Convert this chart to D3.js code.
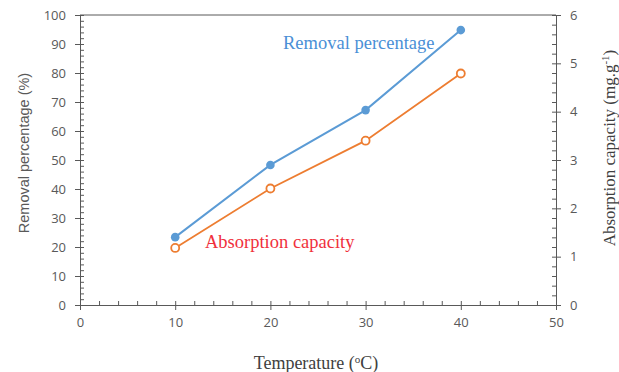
<!DOCTYPE html>
<html lang="en">
<head>
    <meta charset="UTF-8">
    <title>Temperature effect</title>
</head>
<style>
    body { margin: 0; background: #fff; }
    .tick text { font-family: "Open Sans", "DejaVu Sans", sans-serif; font-size: 13px; fill: #595959; }
    .domain, .tick line { stroke: #595959; }
</style>
<body>
<script src="https://cdnjs.cloudflare.com/ajax/libs/d3/7.8.5/d3.min.js"></script>
<script>
    const width = 619, height = 372;
    const margin = {top: 15, right: 63, bottom: 67, left: 80};

    const temperature = [10, 20, 30, 40];
    const removal = [23.4, 48.3, 67.2, 94.8];
    const capacity = [1.18, 2.41, 3.40, 4.79];
    const xTicks = [0, 10, 20, 30, 40, 50];
    const yLeftTicks = [0, 10, 20, 30, 40, 50, 60, 70, 80, 90, 100];
    const yRightTicks = [0, 1, 2, 3, 4, 5, 6];

    const blue = "#5b9bd5", orange = "#ed7d31";

    const svg = d3.select("body")
        .append("svg")
        .attr("width", width)
        .attr("height", height);

    const x = d3.scaleLinear().domain([0, 50]).range([margin.left, width - margin.right]);
    const yL = d3.scaleLinear().domain([0, 100]).range([height - margin.bottom, margin.top]);
    const yR = d3.scaleLinear().domain([0, 6]).range([height - margin.bottom, margin.top]);

    const bottom = height - margin.bottom, right = width - margin.right;

    // minor ticks, pointing into the plot
    svg.append("g").attr("transform", "translate(0," + bottom + ")")
        .call(d3.axisTop(x).tickValues(d3.range(0, 50.01, 2)).tickSize(4).tickFormat(""))
        .call(g => g.select(".domain").remove());
    svg.append("g").attr("transform", "translate(" + margin.left + ",0)")
        .call(d3.axisRight(yL).tickValues(d3.range(0, 100.01, 2)).tickSize(4).tickFormat(""))
        .call(g => g.select(".domain").remove());
    svg.append("g").attr("transform", "translate(" + right + ",0)")
        .call(d3.axisLeft(yR).tickValues(d3.range(0, 6.01, 0.2)).tickSize(4).tickFormat(""))
        .call(g => g.select(".domain").remove());

    // major axes
    svg.append("g").attr("transform", "translate(0," + bottom + ")")
        .call(d3.axisBottom(x).tickValues(xTicks).tickSize(5).tickSizeOuter(0).tickPadding(8));
    svg.append("g").attr("transform", "translate(" + margin.left + ",0)")
        .call(d3.axisLeft(yL).tickValues(yLeftTicks).tickSize(5).tickSizeOuter(0).tickPadding(9));
    svg.append("g").attr("transform", "translate(" + right + ",0)")
        .call(d3.axisRight(yR).tickValues(yRightTicks).tickFormat(d3.format("d"))
            .tickSize(5).tickSizeOuter(0).tickPadding(9));

    svg.append("line")
        .attr("x1", margin.left).attr("x2", right)
        .attr("y1", margin.top).attr("y2", margin.top)
        .attr("stroke", "#595959");

    // series
    const lineL = d3.line().x((d, i) => x(temperature[i])).y(d => yL(d));
    const lineR = d3.line().x((d, i) => x(temperature[i])).y(d => yR(d));

    svg.append("path").datum(removal)
        .attr("d", lineL).attr("fill", "none").attr("stroke", blue).attr("stroke-width", 2);
    svg.append("path").datum(capacity)
        .attr("d", lineR).attr("fill", "none").attr("stroke", orange).attr("stroke-width", 1.8);

    svg.selectAll("circle.rem").data(removal).enter().append("circle")
        .attr("class", "rem")
        .attr("cx", (d, i) => x(temperature[i])).attr("cy", d => yL(d))
        .attr("r", 4.3).attr("fill", blue);
    svg.selectAll("circle.cap").data(capacity).enter().append("circle")
        .attr("class", "cap")
        .attr("cx", (d, i) => x(temperature[i])).attr("cy", d => yR(d))
        .attr("r", 4).attr("fill", "#fff").attr("stroke", orange).attr("stroke-width", 1.8);

    // series labels
    svg.append("text").attr("x", 283).attr("y", 49)
        .style("font-family", "'Liberation Serif', serif").style("font-size", "18.5px")
        .attr("fill", "#4a8fd6").text("Removal percentage");
    svg.append("text").attr("x", 205).attr("y", 248)
        .style("font-family", "'Liberation Serif', serif").style("font-size", "18.5px")
        .attr("fill", "#f0303c").text("Absorption capacity");

    // axis titles
    svg.append("text")
        .attr("transform", "translate(29,153) rotate(-90)")
        .attr("text-anchor", "middle")
        .style("font-family", "'Liberation Sans', Arial, sans-serif").style("font-size", "14.5px")
        .attr("fill", "#595959").text("Removal percentage (%)");

    const rt = svg.append("text")
        .attr("transform", "translate(615,148) rotate(-90)")
        .attr("text-anchor", "middle")
        .style("font-family", "'Liberation Serif', serif").style("font-size", "17px")
        .attr("fill", "#404040");
    rt.append("tspan").text("Absorption capacity (mg.g");
    rt.append("tspan").attr("dy", -6).style("font-size", "11px").text("-1");
    rt.append("tspan").attr("dy", 6).text(")");

    const xt = svg.append("text")
        .attr("x", 316).attr("y", 369)
        .attr("text-anchor", "middle")
        .style("font-family", "'Liberation Serif', serif").style("font-size", "18px")
        .attr("fill", "#404040");
    xt.append("tspan").text("Temperature (");
    xt.append("tspan").attr("dy", -6).style("font-size", "11px").text("o");
    xt.append("tspan").attr("dy", 6).text("C)");
</script>
</body>
</html>
